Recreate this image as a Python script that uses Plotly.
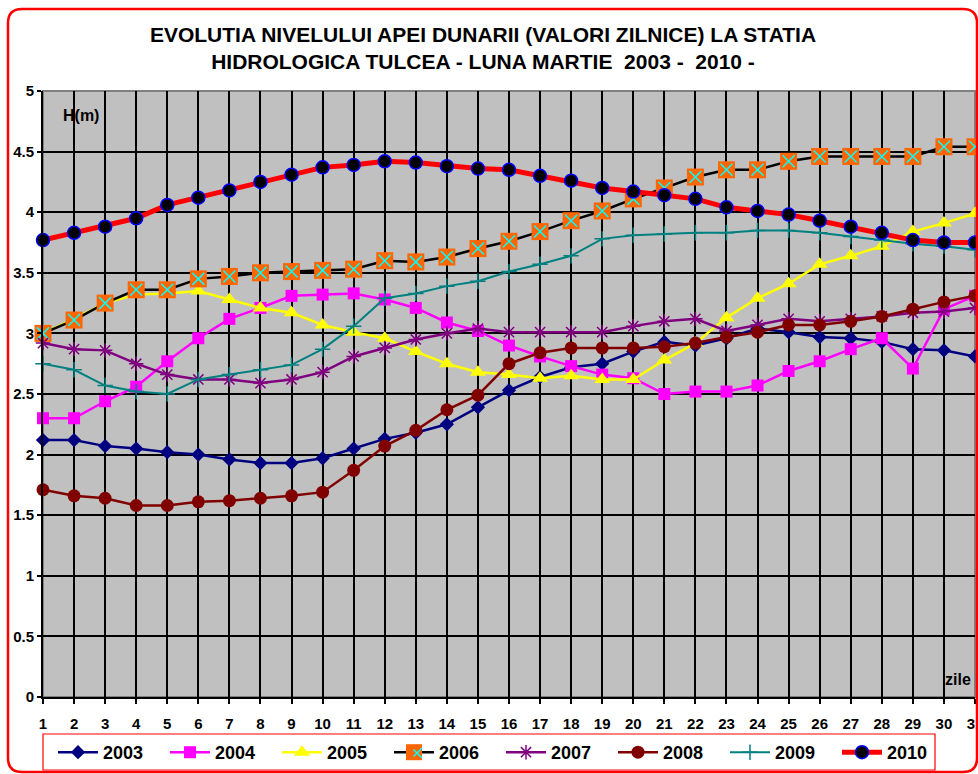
import plotly.graph_objects as go

days = list(range(1, 32))
years = ["2003", "2004", "2005", "2006", "2007", "2008", "2009", "2010"]
y_ticks = [0, 0.5, 1, 1.5, 2, 2.5, 3, 3.5, 4, 4.5, 5]
y_tick_text = ["0", "0.5", "1", "1.5", "2", "2.5", "3", "3.5", "4", "4.5", "5"]

y2003 = [2.12, 2.12, 2.07, 2.05, 2.02, 2.00, 1.96, 1.93, 1.93, 1.97, 2.05, 2.13, 2.18, 2.25, 2.39, 2.53,
         2.64, 2.72, 2.75, 2.85, 2.93, 2.90, 2.96, 3.04, 3.01, 2.97, 2.96, 2.93, 2.87, 2.86, 2.81]
y2004 = [2.30, 2.30, 2.44, 2.56, 2.77, 2.96, 3.12, 3.21, 3.31, 3.32, 3.33, 3.28, 3.21, 3.09, 3.02, 2.90,
         2.81, 2.73, 2.66, 2.63, 2.50, 2.52, 2.52, 2.57, 2.69, 2.77, 2.87, 2.96, 2.71, 3.20, 3.31]
y2005 = [3.00, 3.12, 3.25, 3.32, 3.33, 3.35, 3.28, 3.21, 3.17, 3.07, 3.01, 2.96, 2.85, 2.75, 2.68, 2.66,
         2.63, 2.65, 2.62, 2.62, 2.78, 2.92, 3.13, 3.29, 3.41, 3.57, 3.64, 3.72, 3.84, 3.91, 3.99]
y2006 = [3.00, 3.11, 3.25, 3.36, 3.36, 3.45, 3.47, 3.50, 3.51, 3.52, 3.53, 3.60, 3.59, 3.63, 3.70, 3.76,
         3.84, 3.93, 4.01, 4.11, 4.20, 4.29, 4.35, 4.35, 4.42, 4.46, 4.46, 4.46, 4.46, 4.54, 4.54]
y2007 = [2.92, 2.87, 2.86, 2.75, 2.66, 2.62, 2.62, 2.59, 2.62, 2.68, 2.81, 2.88, 2.95, 3.00, 3.04, 3.01,
         3.01, 3.01, 3.01, 3.06, 3.10, 3.12, 3.02, 3.07, 3.12, 3.10, 3.12, 3.14, 3.17, 3.18, 3.21]
y2008 = [1.71, 1.66, 1.64, 1.58, 1.58, 1.61, 1.62, 1.64, 1.66, 1.69, 1.87, 2.07, 2.20, 2.37, 2.49, 2.75,
         2.84, 2.88, 2.88, 2.88, 2.89, 2.92, 2.97, 3.01, 3.07, 3.07, 3.10, 3.14, 3.20, 3.26, 3.31]
y2009 = [2.75, 2.70, 2.57, 2.52, 2.50, 2.62, 2.66, 2.70, 2.74, 2.87, 3.06, 3.29, 3.33, 3.39, 3.43, 3.51,
         3.57, 3.64, 3.78, 3.81, 3.82, 3.83, 3.83, 3.85, 3.85, 3.83, 3.80, 3.77, 3.74, 3.72, 3.69]
y2010 = [3.77, 3.83, 3.88, 3.95, 4.06, 4.12, 4.18, 4.25, 4.31, 4.37, 4.39, 4.42, 4.41, 4.38, 4.36, 4.35,
         4.30, 4.26, 4.20, 4.17, 4.14, 4.11, 4.04, 4.01, 3.98, 3.93, 3.88, 3.83, 3.77, 3.75, 3.75]

title_lines = ["EVOLUTIA NIVELULUI APEI DUNARII (VALORI ZILNICE) LA STATIA",
               "HIDROLOGICA TULCEA - LUNA MARTIE  2003 -  2010 -"]
y_label = "H(m)"
x_label = "zile"

FONT = "Liberation Sans, Arial, sans-serif"

# layout geometry (pixels)
W, H = 978, 774
L, R, T, B = 43, 975, 91, 697
PW, PH = R - L, B - T


def px(x):
    return (x - L) / PW


def py(y):
    return (B - y) / PH


fig = go.Figure()

common = dict(x=days, mode="lines+markers", cliponaxis=False)

fig.add_trace(go.Scatter(y=y2003, name=years[0], line=dict(color="#000080", width=2.5),
                         marker=dict(symbol="diamond", size=11, color="#000080"), **common))
fig.add_trace(go.Scatter(y=y2004, name=years[1], line=dict(color="#FF00FF", width=2.5),
                         marker=dict(symbol="square", size=12, color="#FF00FF"), **common))
fig.add_trace(go.Scatter(y=y2005, name=years[2], line=dict(color="#FFFF00", width=2.5),
                         marker=dict(symbol="triangle-up", size=14, color="#FFFF00"), **common))
fig.add_trace(go.Scatter(y=y2006, name=years[3], line=dict(color="#000000", width=2.5),
                         marker=dict(symbol="square", size=17, color="#FF6600"), **common))
fig.add_trace(go.Scatter(y=y2006, name=years[3], showlegend=False, mode="markers", x=days,
                         cliponaxis=False,
                         marker=dict(symbol="x-thin", size=12, color="#00FFFF",
                                     line=dict(color="#00FFFF", width=1.5))))
fig.add_trace(go.Scatter(y=y2007, name=years[4], line=dict(color="#800080", width=2.5),
                         marker=dict(symbol="asterisk-open", size=12, color="#800080",
                                     line=dict(color="#800080", width=1.5)), **common))
fig.add_trace(go.Scatter(y=y2008, name=years[5], line=dict(color="#800000", width=2.5),
                         marker=dict(symbol="circle", size=13, color="#800000"), **common))
fig.add_trace(go.Scatter(y=y2009, name=years[6], line=dict(color="#008080", width=2),
                         marker=dict(symbol="cross-thin-open", size=11, color="#008080",
                                     line=dict(color="#008080", width=1.5)), **common))
fig.add_trace(go.Scatter(y=y2010, name=years[7], line=dict(color="#FF0000", width=5),
                         marker=dict(symbol="circle", size=13, color="#000000",
                                     line=dict(color="#0000FF", width=1.5)), **common))

# outer rounded red frame
left, right, top, bottom, rr = 8, 977, 9, 772, 14
rx, ry = rr / PW, rr / PH
path = (f"M {px(left)+rx},{py(top)} L {px(right)-rx},{py(top)} "
        f"Q {px(right)},{py(top)} {px(right)},{py(top)-ry} "
        f"L {px(right)},{py(bottom)+ry} Q {px(right)},{py(bottom)} {px(right)-rx},{py(bottom)} "
        f"L {px(left)+rx},{py(bottom)} Q {px(left)},{py(bottom)} {px(left)},{py(bottom)+ry} "
        f"L {px(left)},{py(top)-ry} Q {px(left)},{py(top)} {px(left)+rx},{py(top)} Z")

shapes = [
    dict(type="path", path=path, xref="paper", yref="paper",
         line=dict(color="#FF0000", width=2.5), layer="above"),
    dict(type="rect", xref="paper", yref="paper", x0=0, x1=1, y0=0, y1=1,
         line=dict(color="#808080", width=2), layer="between"),
    dict(type="rect", xref="paper", yref="paper", x0=px(43), x1=px(935), y0=py(734), y1=py(770),
         line=dict(color="#FF0000", width=1.2), layer="above"),
]

# cyan cross drawn over the 2006 legend symbol (two arrow-less segments)
cx, cy, hs = 417, 753, 5
cross = [
    dict(text=" ", xref="paper", yref="paper", x=px(cx + hs), y=py(cy + hs), ax=-2 * hs, ay=-2 * hs,
         showarrow=True, arrowhead=0, arrowwidth=1.5, arrowcolor="#00FFFF",
         standoff=0, startstandoff=0, font=dict(size=1)),
    dict(text=" ", xref="paper", yref="paper", x=px(cx + hs), y=py(cy - hs), ax=-2 * hs, ay=2 * hs,
         showarrow=True, arrowhead=0, arrowwidth=1.5, arrowcolor="#00FFFF",
         standoff=0, startstandoff=0, font=dict(size=1)),
]

fig.update_layout(
    width=W, height=H,
    margin=dict(l=L, r=W - R, t=T, b=H - B, autoexpand=False),
    paper_bgcolor="white",
    plot_bgcolor="#C0C0C0",
    font=dict(family=FONT, color="black"),
    title=dict(text="<b>" + "<br>".join(title_lines) + "</b>",
               x=483 / W, xref="container", xanchor="center",
               y=1 - 42 / H, yref="container", yanchor="middle",
               font=dict(size=21, family=FONT, color="black")),
    xaxis=dict(range=[1, 31], tickmode="array", tickvals=days,
               ticktext=["<b>" + str(d) + "</b>" for d in days],
               showgrid=True, gridcolor="black", gridwidth=2,
               showline=True, linecolor="black", linewidth=2,
               ticks="outside", ticklen=5, tickwidth=2, tickcolor="black",
               ticklabelstandoff=7, ticklabeloverflow="allow", automargin=False,
               tickfont=dict(size=15, family=FONT, color="black"),
               zeroline=False, fixedrange=True),
    yaxis=dict(range=[0, 5], tickmode="array", tickvals=y_ticks,
               ticktext=["<b>" + t + "</b>" for t in y_tick_text],
               showgrid=True, gridcolor="black", gridwidth=2,
               showline=True, linecolor="black", linewidth=2,
               ticks="outside", ticklen=4, tickwidth=2, tickcolor="black",
               automargin=False,
               tickfont=dict(size=15, family=FONT, color="black"),
               zeroline=False, fixedrange=True),
    legend=dict(orientation="h", x=px(53), xanchor="left", y=py(734), yanchor="top",
                borderwidth=0, bgcolor="rgba(0,0,0,0)",
                font=dict(size=18, family=FONT, color="black", weight="bold"),
                itemwidth=40, entrywidth=57, entrywidthmode="pixels",
                traceorder="normal"),
    shapes=shapes,
    annotations=[
        dict(text="<b>" + y_label + "</b>", xref="paper", yref="paper", x=px(61), y=py(115),
             xanchor="left", yanchor="middle", showarrow=False,
             font=dict(size=16, family=FONT, color="black")),
        dict(text="<b>" + x_label + "</b>", xref="paper", yref="paper", x=px(973), y=py(679),
             xanchor="right", yanchor="middle", showarrow=False,
             font=dict(size=16, family=FONT, color="black")),
    ] + cross,
    showlegend=True,
)

fig.write_html("out.html", config={"displayModeBar": False},
               post_script="document.body.style.margin='0';document.body.style.overflow='hidden';")
